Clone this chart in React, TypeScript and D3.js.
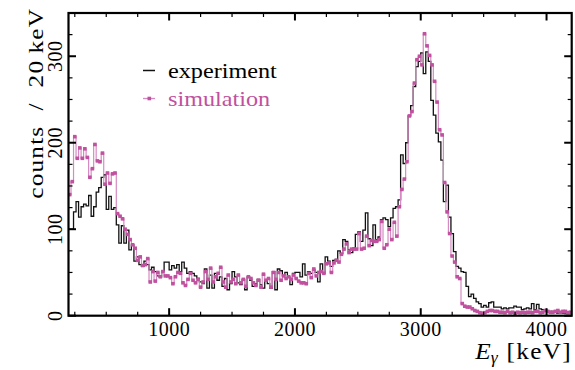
import React from "react";
import * as d3 from "d3";

// Histogram: 20 keV bins from 200 keV to 4200 keV (lower bin edges)
const binStart = 200;
const binWidth = 20;

const experiment: number[] = [
  100, 100, 120, 132, 114, 126, 129, 127, 139, 115,
  126, 143, 148, 160, 163, 123, 138, 123, 125, 105,
  84, 104, 84, 99, 76, 82, 63, 68, 59, 57,
  63, 59, 53, 56, 51, 46, 45, 51, 62, 62,
  53, 58, 55, 59, 51, 62, 55, 49, 51, 49,
  46, 43, 39, 37, 54, 32, 47, 32, 49, 41,
  45, 34, 43, 30, 37, 51, 45, 38, 36, 42,
  30, 45, 41, 34, 37, 42, 36, 32, 41, 37,
  32, 51, 30, 54, 52, 46, 50, 45, 36, 49,
  50, 50, 45, 60, 47, 51, 49, 53, 50, 39,
  60, 49, 68, 63, 57, 64, 65, 75, 72, 88,
  86, 76, 73, 78, 94, 97, 86, 99, 119, 89,
  81, 105, 88, 91, 111, 113, 111, 103, 113, 124,
  126, 134, 186, 176, 200, 231, 243, 265, 288, 294,
  304, 280, 305, 294, 249, 232, 211, 201, 180, 132,
  151, 114, 95, 74, 57, 55, 51, 50, 34, 22,
  25, 20, 16, 14, 10, 12, 10, 15, 16, 10,
  10, 10, 8, 9, 8, 9, 9, 11, 10, 10,
  7, 8, 9, 8, 14, 7, 13, 8, 7, 7,
  5, 5, 5, 4, 3, 3, 3, 3, 3, 3,
];

const simulation: number[] = [
  140, 155, 207, 182, 194, 182, 193, 183, 160, 170,
  198, 179, 178, 188, 152, 165, 153, 164, 165, 118,
  115, 112, 100, 94, 88, 82, 78, 64, 68, 58,
  59, 66, 39, 51, 40, 50, 45, 51, 46, 46,
  44, 37, 45, 50, 49, 38, 35, 42, 49, 41,
  38, 42, 33, 39, 51, 42, 55, 39, 45, 49,
  56, 39, 33, 47, 39, 42, 37, 47, 38, 42,
  34, 45, 43, 38, 35, 41, 33, 48, 41, 43,
  33, 50, 42, 50, 41, 46, 43, 45, 42, 47,
  43, 40, 38, 38, 37, 49, 44, 54, 46, 50,
  51, 49, 60, 61, 50, 61, 64, 62, 71, 77,
  83, 73, 77, 77, 77, 95, 77, 78, 92, 81,
  87, 86, 86, 88, 109, 78, 82, 100, 88, 108,
  92, 126, 146, 158, 178, 231, 236, 269, 296, 300,
  290, 326, 312, 301, 290, 271, 247, 215, 209, 154,
  120, 95, 69, 62, 45, 43, 14, 11, 10, 10,
  8, 6, 5, 3.5, 3, 3.5, 5, 6, 6, 5,
  5, 4, 4, 3.5, 5, 3.5, 4, 3, 4, 3.5,
  4, 3.5, 4, 4, 3.5, 5, 5, 3.5, 4, 6,
  5, 4, 4, 5, 6, 4, 5, 5, 3.5, 4,
];

const xDomain: [number, number] = [200, 4200];
const yDomain: [number, number] = [0, 350];
const xMajorTicks = [1000, 2000, 3000, 4000];
const yMajorTicks = [0, 100, 200, 300];
const legendLabels = ["experiment", "simulation"];
const yTitle = "counts  /  20\u2009keV";

const W = 575;
const H = 370;
const left = 68.5;
const right = 571.7;
const top = 13;
const bottom = 315.7;

const BLACK = "#111111";
const MAGENTA = "#c0519e";
const MAGENTA_LINE = "#d68ac3";
const FONT = "'Liberation Serif', 'Times New Roman', 'DejaVu Serif', serif";
const fs = (size: number, extra: React.CSSProperties = {}): React.CSSProperties => ({
  fontFamily: FONT,
  fontSize: size,
  ...extra,
});

export default function App() {
  const x = d3.scaleLinear().domain(xDomain).range([left, right]);
  const y = d3.scaleLinear().domain(yDomain).range([bottom, top]);

  const stepPoints = (vals: number[]) => {
    const pts: [number, number][] = vals.map((v, i) => [binStart + i * binWidth, v]);
    pts.push([binStart + vals.length * binWidth, vals[vals.length - 1]]);
    return pts;
  };
  const line = d3
    .line<[number, number]>()
    .x((d) => x(d[0]))
    .y((d) => y(d[1]))
    .curve(d3.curveStepAfter);

  const xMinor = d3.range(250, 4200, 250).filter((v) => v % 1000 !== 0);
  const yMinor = d3.range(25, 350, 25).filter((v) => v % 100 !== 0);

  const majorLen = 7.5;
  const minorLen = 4;

  return (
    <svg width={W} height={H} style={{ position: "absolute", left: 0, top: 0, fontFamily: FONT }}>
      <rect x={0} y={0} width={W} height={H} fill="#ffffff" />
      <defs>
        <clipPath id="plotclip">
          <rect x={left} y={top} width={right - left} height={bottom - top} />
        </clipPath>
      </defs>

      <g clipPath="url(#plotclip)">
        <path d={line(stepPoints(experiment)) || ""} fill="none" stroke={BLACK} strokeWidth={1.3} />
        <path d={line(stepPoints(simulation)) || ""} fill="none" stroke={MAGENTA_LINE} strokeWidth={1.2} />
        {simulation.map((v, i) => {
          const cx = x(binStart + (i + 0.5) * binWidth);
          const cy = y(v);
          return <rect key={i} x={cx - 1.8} y={cy - 1.8} width={3.6} height={3.6} fill={MAGENTA} />;
        })}
      </g>

      {/* ticks */}
      <g stroke="#000" strokeWidth={1.2}>
        {xMinor.map((t) => (
          <g key={"xm" + t}>
            <line x1={x(t)} x2={x(t)} y1={bottom} y2={bottom - minorLen} />
            <line x1={x(t)} x2={x(t)} y1={top} y2={top + minorLen} />
          </g>
        ))}
        {yMinor.map((t) => (
          <g key={"ym" + t}>
            <line x1={left} x2={left + minorLen} y1={y(t)} y2={y(t)} />
            <line x1={right} x2={right - minorLen} y1={y(t)} y2={y(t)} />
          </g>
        ))}
      </g>
      <g stroke="#000" strokeWidth={2}>
        {xMajorTicks.map((t) => (
          <g key={"xM" + t}>
            <line x1={x(t)} x2={x(t)} y1={bottom} y2={bottom - majorLen} />
            <line x1={x(t)} x2={x(t)} y1={top} y2={top + majorLen} />
          </g>
        ))}
        {yMajorTicks.map((t) => (
          <g key={"yM" + t}>
            <line x1={left} x2={left + majorLen} y1={y(t)} y2={y(t)} />
            <line x1={right} x2={right - majorLen} y1={y(t)} y2={y(t)} />
          </g>
        ))}
      </g>

      {/* frame */}
      <rect x={left} y={top} width={right - left} height={bottom - top} fill="none" stroke="#000" strokeWidth={2.2} />

      {/* x tick labels */}
      {xMajorTicks.map((t) => (
        <text key={"xl" + t} x={x(t)} y={336} textAnchor="middle" style={fs(20, { letterSpacing: 0.5 })} fill="#000">
          {t}
        </text>
      ))}
      {/* y tick labels (rotated) */}
      {yMajorTicks.map((t) => (
        <text
          key={"yl" + t}
          transform={`translate(61.5, ${y(t)}) rotate(-90)`}
          textAnchor="middle"
          style={fs(20, { letterSpacing: 0.5 })}
          fill="#000"
        >
          {t}
        </text>
      ))}

      {/* axis titles */}
      <text
        transform="translate(43, 9) rotate(-90) scale(1.15, 1)"
        textAnchor="end"
        style={fs(22, { whiteSpace: "pre" })}
        textLength={165}
        lengthAdjust="spacing"
        fill="#000"
      >
        {yTitle}
      </text>
      <text transform="translate(572, 359) scale(1.1, 1)" textAnchor="end" style={fs(23)} fill="#000">
        <tspan fontStyle="italic">E</tspan>
        <tspan fontStyle="italic" style={{ fontSize: 16 }} dy={4}>γ</tspan>
        <tspan dy={-4} dx={8} style={{ letterSpacing: 1.2 }}>[keV]</tspan>
      </text>

      {/* legend */}
      <line x1={143} x2={155} y1={70.5} y2={70.5} stroke={BLACK} strokeWidth={1.5} />
      <text transform="translate(168, 78) scale(1.1, 1)" style={fs(22)} fill="#000">{legendLabels[0]}</text>
      <line x1={143} x2={155} y1={98.5} y2={98.5} stroke={MAGENTA_LINE} strokeWidth={1.3} />
      <rect x={149.3 - 1.8} y={98.5 - 1.8} width={3.6} height={3.6} fill={MAGENTA} />
      <text transform="translate(168, 105.5) scale(1.1, 1)" style={fs(22)} fill={MAGENTA}>{legendLabels[1]}</text>
    </svg>
  );
}
